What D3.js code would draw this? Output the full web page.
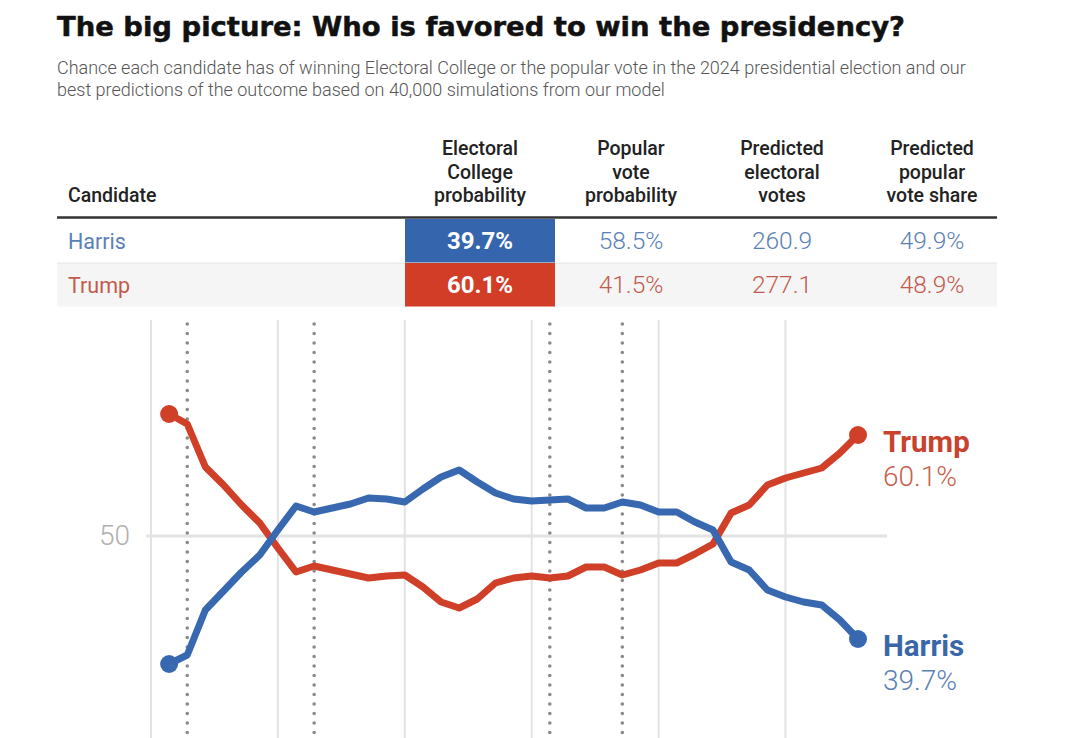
<!DOCTYPE html>
<html>
<head>
<meta charset="utf-8">
<script src="https://cdn.jsdelivr.net/npm/d3@7"></script>
<style>
  html, body { margin: 0; padding: 0; background: #fff; }
  svg { display: block; }
</style>
</head>
<body>
<svg id="chart" width="1079" height="738"></svg>
<script>
// ---------- DATA ----------
const title = "The big picture: Who is favored to win the presidency?";
const subtitleLines = [
  "Chance each candidate has of winning Electoral College or the popular vote in the 2024 presidential election and our",
  "best predictions of the outcome based on 40,000 simulations from our model"
];
const headers = [
  ["Candidate"],
  ["Electoral", "College", "probability"],
  ["Popular", "vote", "probability"],
  ["Predicted", "electoral", "votes"],
  ["Predicted", "popular", "vote share"]
];
const candidates = ["Harris", "Trump"];
const ecProbability = ["39.7%", "60.1%"];
const popProbability = ["58.5%", "41.5%"];
const predictedEV = ["260.9", "277.1"];
const predictedShare = ["49.9%", "48.9%"];

// Forecast history (chance of winning Electoral College, %), one value per day
const harrisSeries = [37.2,38.1,42.6,44.5,46.4,48.1,50.6,53.0,52.4,52.8,53.2,53.8,53.7,53.4,54.7,55.9,56.6,55.4,54.3,53.7,53.5,53.6,53.7,52.8,52.8,53.4,53.1,52.4,52.4,51.4,50.6,47.4,46.6,44.6,43.9,43.4,43.1,41.6,39.7];
const trumpSeries  = [62.2,61.2,56.9,55.1,53.1,51.3,48.8,46.4,47.0,46.6,46.2,45.8,46.0,46.1,44.9,43.4,42.8,43.7,45.3,45.8,46.0,45.8,46.0,46.9,46.9,46.1,46.6,47.3,47.3,48.2,49.2,52.3,53.1,55.1,55.8,56.3,56.8,58.3,60.1];
const days = d3.range(1, harrisSeries.length + 1);
const weekGridDays = [0, 7, 14, 21, 28, 35];
const eventDays = [2, 9, 22, 26];
const yTicks = [50];
const endLabels = ["Trump", "Harris"];
const endValues = ["60.1%", "39.7%"];

// ---------- STYLE ----------
const BLUE = "#3868b0", RED = "#d03f28";
const BLUE_TXT = "#5a81b6", RED_TXT = "#c35a4b";

const svg = d3.select("#chart");

// Title & subtitle
svg.append("text")
  .attr("x", 57).attr("y", 36)
  .attr("font-family", "'DejaVu Sans', sans-serif")
  .attr("font-weight", 900)
  .attr("font-size", 26)
  .attr("textLength", 848).attr("lengthAdjust", "spacingAndGlyphs")
  .attr("fill", "#111").attr("stroke", "#111").attr("stroke-width", 0.5)
  .text(title);

svg.selectAll("text.sub").data(subtitleLines).enter().append("text")
  .attr("class", "sub")
  .attr("x", 57).attr("y", (d, i) => 74 + i * 22)
  .attr("font-family", "Roboto, sans-serif")
  .attr("font-weight", 300)
  .attr("font-size", 18)
  .attr("fill", "#555")
  .text(d => d);

// ---------- TABLE ----------
const tableLeft = 57, tableRight = 997;
const colCenters = [68, 480, 631, 782, 932];
const cellLeft = 405, cellRight = 555;
const rowTop = [219, 263], rowH = 43.5;

const tbl = svg.append("g");
tbl.append("rect").attr("x", tableLeft).attr("y", rowTop[1]).attr("width", tableRight - tableLeft).attr("height", rowH).attr("fill", "#f5f5f5");
tbl.append("line").attr("x1", tableLeft).attr("x2", tableRight).attr("y1", rowTop[1]).attr("y2", rowTop[1]).attr("stroke", "#e6e6e6").attr("stroke-width", 1);

headers.forEach((lines, c) => {
  const n = lines.length;
  lines.forEach((ln, k) => {
    tbl.append("text")
      .attr("x", colCenters[c])
      .attr("y", 202 - (n - 1 - k) * 23.5)
      .attr("text-anchor", c === 0 ? "start" : "middle")
      .attr("font-family", "Roboto, sans-serif")
      .attr("font-weight", 500)
      .attr("font-size", 19.5)
      .attr("fill", "#222")
      .text(ln);
  });
});
tbl.append("line").attr("x1", tableLeft).attr("x2", tableRight).attr("y1", 217.5).attr("y2", 217.5).attr("stroke", "#333").attr("stroke-width", 2.5);

candidates.forEach((cand, r) => {
  tbl.append("rect").attr("x", cellLeft).attr("y", rowTop[r]).attr("width", cellRight - cellLeft).attr("height", rowH).attr("fill", r === 0 ? "#3566ad" : "#d13d26");
  const cy = rowTop[r] + rowH / 2 + 8.5;
  const txtColor = r === 0 ? BLUE_TXT : RED_TXT;
  tbl.append("text").attr("x", colCenters[0]).attr("y", cy)
    .attr("font-family", "Roboto, sans-serif").attr("font-weight", 400).attr("font-size", 21.5)
    .attr("fill", txtColor).text(cand);
  tbl.append("text").attr("x", colCenters[1]).attr("y", cy).attr("text-anchor", "middle")
    .attr("font-family", "Roboto, sans-serif").attr("font-weight", 700).attr("font-size", 24)
    .attr("fill", "#fff").text(ecProbability[r]);
  [popProbability, predictedEV, predictedShare].forEach((arr, j) => {
    tbl.append("text").attr("x", colCenters[2 + j]).attr("y", cy).attr("text-anchor", "middle")
      .attr("font-family", "Roboto, sans-serif").attr("font-weight", 300).attr("font-size", 24.5)
      .attr("fill", txtColor).text(arr[r]);
  });
});

// ---------- LINE CHART ----------
const x = d3.scaleLinear().domain([0, 39]).range([151, 858]);
const y = d3.scaleLinear().domain([30, 70]).range([736, 336]);
const plotTop = 320, plotBottom = 745;

const g = svg.append("g");

g.selectAll("line.vgrid").data(weekGridDays).enter().append("line")
  .attr("class", "vgrid")
  .attr("x1", d => x(d)).attr("x2", d => x(d))
  .attr("y1", plotTop).attr("y2", plotBottom)
  .attr("stroke", "#e2e2e2").attr("stroke-width", 2);

const yAxis = d3.axisLeft(y).tickValues(yTicks).tickSize(0).tickPadding(16);
const ax = g.append("g").attr("transform", `translate(${x(-0.27)},0)`).call(yAxis);
ax.select(".domain").remove();
ax.selectAll("text")
  .attr("font-family", "Roboto, sans-serif").attr("font-weight", 300)
  .attr("font-size", 28).attr("fill", "#b0b0b0");
g.selectAll("line.hgrid").data(yTicks).enter().append("line")
  .attr("class", "hgrid")
  .attr("x1", x(-0.27)).attr("x2", x(40.6))
  .attr("y1", d => y(d)).attr("y2", d => y(d))
  .attr("stroke", "#e3e3e3").attr("stroke-width", 3);

g.selectAll("line.event").data(eventDays).enter().append("line")
  .attr("class", "event")
  .attr("x1", d => x(d)).attr("x2", d => x(d))
  .attr("y1", plotTop + 4).attr("y2", plotBottom)
  .attr("stroke", "#8a8a8a").attr("stroke-width", 3.6)
  .attr("stroke-linecap", "round")
  .attr("stroke-dasharray", "0,9.5");

const line = d3.line().x((d, i) => x(days[i])).y(d => y(d));
const seriesList = [
  { name: "Trump", values: trumpSeries, color: RED },
  { name: "Harris", values: harrisSeries, color: BLUE }
];
seriesList.forEach(s => {
  g.append("path").datum(s.values)
    .attr("d", line)
    .attr("fill", "none")
    .attr("stroke", s.color)
    .attr("stroke-width", 7)
    .attr("stroke-linejoin", "round")
    .attr("stroke-linecap", "round");
  const last = s.values.length - 1;
  [0, last].forEach(i => {
    g.append("circle")
      .attr("cx", x(days[i])).attr("cy", y(s.values[i]))
      .attr("r", 9).attr("fill", s.color);
  });
});

seriesList.forEach(s => {
  const last = s.values.length - 1;
  const yy = y(s.values[last]);
  const nameColor = s.name === "Trump" ? "#c9422e" : "#3a67a8";
  const valColor = s.name === "Trump" ? "#c9604b" : "#5a80b4";
  g.append("text").attr("x", x(days[last]) + 25).attr("y", yy + 17)
    .attr("font-family", "Roboto, sans-serif").attr("font-weight", 700).attr("font-size", 29.5)
    .attr("fill", nameColor).text(s.name);
  g.append("text").attr("x", x(days[last]) + 25).attr("y", yy + 51)
    .attr("font-family", "Roboto, sans-serif").attr("font-weight", 300).attr("font-size", 28)
    .attr("fill", valColor).text(endValues[endLabels.indexOf(s.name)]);
});
</script>
</body>
</html>
